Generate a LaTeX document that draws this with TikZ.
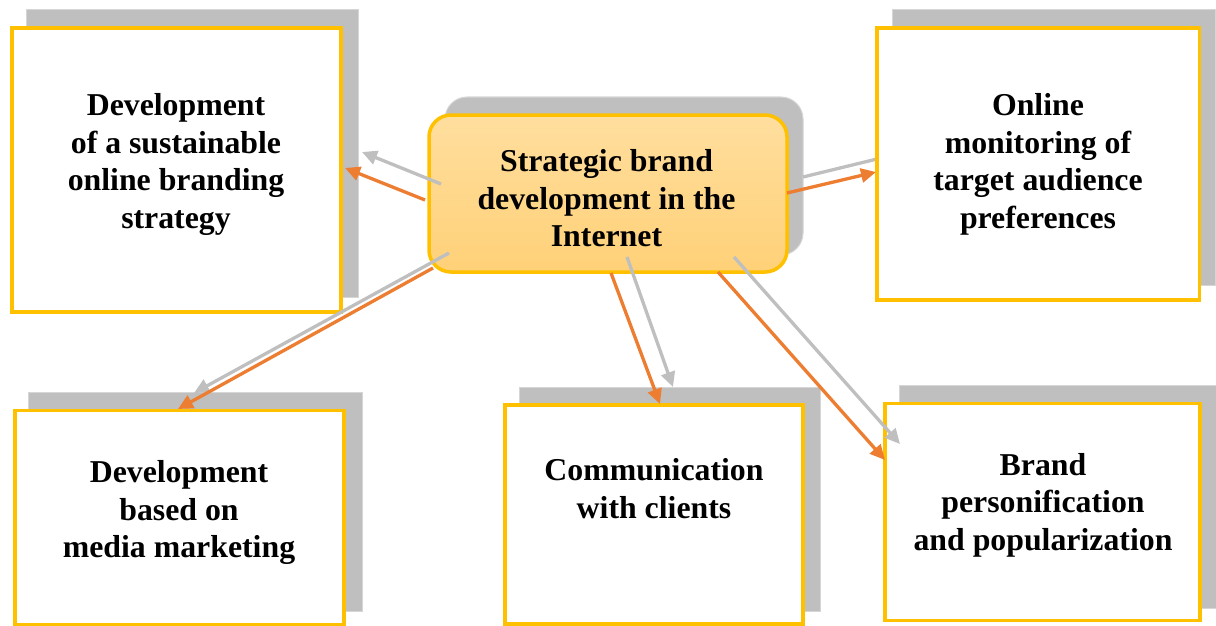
\documentclass[tikz,border=0pt]{standalone}
\usepackage{fontspec}
\setmainfont{Liberation Serif}
\usetikzlibrary{arrows.meta}
\definecolor{ybord}{HTML}{FFC000}
\definecolor{orng}{HTML}{ED7D31}
\definecolor{shd}{HTML}{BFBFBF}
\definecolor{shdline}{HTML}{D6D6D6}
\definecolor{ctop}{HTML}{FFDE9E}
\definecolor{cbot}{HTML}{FFD178}
\tikzset{
  shadowbox/.style={rectangle, fill=shd, draw=shdline, line width=1pt, inner sep=0pt},
  itembox/.style={rectangle, fill=white, draw=ybord, line width=3.5pt, inner sep=0pt},
  centerbox/.style={rectangle, rounded corners=22pt, top color=ctop, bottom color=cbot, draw=ybord, line width=3.5pt, inner sep=0pt},
  centershadow/.style={rectangle, rounded corners=22pt, fill=shd, draw=shdline, line width=1pt, inner sep=0pt},
  label text/.style={align=center, font=\bfseries\fontsize{31.8}{37.5}\selectfont, inner sep=0pt},
  oarrow/.style={draw=orng, line width=3.3pt, -{Triangle[length=15pt,width=14pt]}},
  garrow/.style={draw=shd, line width=3.3pt, -{Triangle[length=15pt,width=14pt]}},
  gline/.style={draw=shd, line width=3.3pt},
}
\begin{document}
\begin{tikzpicture}[x=1pt,y=-1pt]
\useasboundingbox (0,0) rectangle (1216,626);
% shadows
\node[shadowbox, minimum width=332pt, minimum height=287pt] (s1) at (192,153.5) {};
\node[shadowbox, minimum width=323pt, minimum height=275pt] (s2) at (1053.5,147.5) {};
\node[centershadow, minimum width=358pt, minimum height=158pt] (cs) at (624,176) {};
\node[shadowbox, minimum width=334pt, minimum height=219pt] (s3) at (195,501.5) {};
\node[shadowbox, minimum width=301pt, minimum height=224pt] (s4) at (669.5,499) {};
\node[shadowbox, minimum width=317pt, minimum height=223pt] (s5) at (1057.5,496.5) {};
% center
\node[centerbox, minimum width=358pt, minimum height=157pt] (c) at (608,193.5) {};
\node[label text] (ct) at (606.5,198.5) {Strategic brand\\development in the\\Internet};
% boxes
\node[itembox, minimum width=329pt, minimum height=284pt] (b1) at (176.5,170) {};
\node[label text] (t1) at (176,164.5) {Development\\of a sustainable\\online branding\\strategy};
\node[itembox, minimum width=329pt, minimum height=214pt] (b3) at (179.5,517.5) {};
\node[label text] (t3) at (179,512.5) {Development\\based on\\media marketing};
\node[itembox, minimum width=298pt, minimum height=219pt] (b4) at (654,514.5) {};
\node[label text] (t4) at (654,488.5) {Communication\\with clients};
\node[itembox, minimum width=315pt, minimum height=217pt] (b5) at (1042.5,512) {};
\node[label text] (t5) at (1043,505) {Brand\\personification\\and popularization};
% arrow coordinates
\coordinate (g1s) at (441,184); \coordinate (g1e) at (362,152);
\coordinate (g2s) at (803,177); \coordinate (g2e) at (877,159);
\coordinate (g3s) at (449,253); \coordinate (g3e) at (194,393);
\coordinate (g4s) at (627,257); \coordinate (g4e) at (673,387);
\coordinate (g5s) at (734,257); \coordinate (g5e) at (900,444);
\coordinate (o1s) at (425,200); \coordinate (o1e) at (345,168);
\coordinate (o2s) at (787,193); \coordinate (o2e) at (876,172);
\coordinate (o3s) at (433,268); \coordinate (o3e) at (178,409);
\coordinate (o4s) at (611,273); \coordinate (o4e) at (660,404);
\coordinate (o5s) at (718,272); \coordinate (o5e) at (885,460);
% gray arrows
\draw[garrow] (g1s) -- (g1e);
\draw[gline] (g2s) -- (g2e);
\draw[garrow] (g3s) -- (g3e);
\draw[garrow] (g4s) -- (g4e);
\draw[garrow] (g5s) -- (g5e);
% top-right box
\node[itembox, minimum width=322.5pt, minimum height=271.5pt] (b2) at (1038,164) {};
\node[label text] (t2) at (1038,164.5) {Online\\monitoring of\\target audience\\preferences};
% orange arrows
\draw[oarrow] (o1s) -- (o1e);
\draw[oarrow] (o2s) -- (o2e);
\draw[oarrow] (o3s) -- (o3e);
\draw[oarrow] (o4s) -- (o4e);
\draw[oarrow] (o5s) -- (o5e);
\end{tikzpicture}
\end{document}
